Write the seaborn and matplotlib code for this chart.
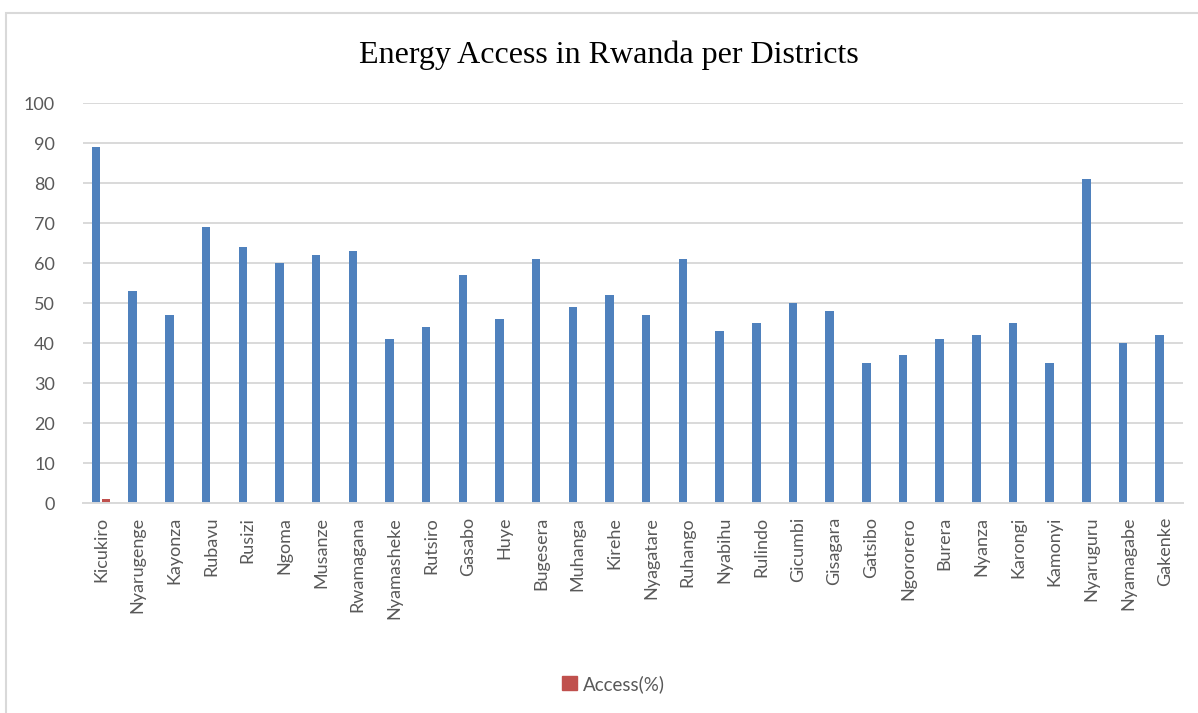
import pandas as pd
import seaborn as sns
import matplotlib.pyplot as plt
from matplotlib.patches import Rectangle, Patch

districts = ["Kicukiro", "Nyarugenge", "Kayonza", "Rubavu", "Rusizi", "Ngoma", "Musanze",
             "Rwamagana", "Nyamasheke", "Rutsiro", "Gasabo", "Huye", "Bugesera", "Muhanga",
             "Kirehe", "Nyagatare", "Ruhango", "Nyabihu", "Rulindo", "Gicumbi", "Gisagara",
             "Gatsibo", "Ngororero", "Burera", "Nyanza", "Karongi", "Kamonyi", "Nyaruguru",
             "Nyamagabe", "Gakenke"]
energy = [89, 53, 47, 69, 64, 60, 62, 63, 41, 44, 57, 46, 61, 49, 52, 47, 61, 43, 45, 50,
          48, 35, 37, 41, 42, 45, 35, 81, 40, 42]
access = [1] + [0] * 29

df = pd.DataFrame({
    "district": districts * 2,
    "series": ["Energy"] * len(districts) + ["Access(%)"] * len(districts),
    "value": energy + access,
})

sns.set_style("white")
plt.rcParams['font.family'] = ['Lato', 'DejaVu Sans']

fig = plt.figure(figsize=(11.98, 7.13), dpi=100)
ax = fig.add_axes([0.069, 0.2945, 0.9185, 0.561])

g = sns.barplot(data=df, x="district", y="value", hue="series",
                palette=["#4f81bd", "#c0504d"], width=0.54, gap=0.14,
                legend=False, ax=ax, saturation=1, linewidth=0)

ax.set_ylim(0, 100)
ax.set_xlim(-0.5, len(districts) - 0.5)
ax.set_yticks(range(0, 101, 10))
ax.yaxis.grid(True, color="#d9d9d9", linewidth=1.4)
ax.set_axisbelow(True)
for s in ["top", "right", "left"]:
    ax.spines[s].set_visible(False)
ax.spines["bottom"].set_color("#d9d9d9")
ax.spines["bottom"].set_linewidth(1.4)
ax.tick_params(axis="both", length=0, colors="#595959", labelsize=13)
ax.tick_params(axis="x", pad=10)
ax.tick_params(axis="y", pad=20)
plt.setp(ax.get_xticklabels(), rotation=90)
ax.set_xlabel("")
ax.set_ylabel("")

fig.text(0.508, 0.922, "Energy Access in Rwanda per Districts", ha="center", va="center",
         fontsize=23, family=["Liberation Serif", "DejaVu Serif"], color="black")

fig.legend(handles=[Patch(color="#c0504d", label="Access(%)")], loc="center",
           bbox_to_anchor=(0.512, 0.041), frameon=False, fontsize=13.5,
           handlelength=0.8, handleheight=0.8, handletextpad=0.35, labelcolor="#595959")

fig.patches.append(Rectangle((6 / 1198, -0.1), 1.2, 1.1 - 13 / 713, transform=fig.transFigure,
                             fill=False, edgecolor="#d9d9d9", linewidth=1.5))

plt.savefig("out.png", dpi=100)
